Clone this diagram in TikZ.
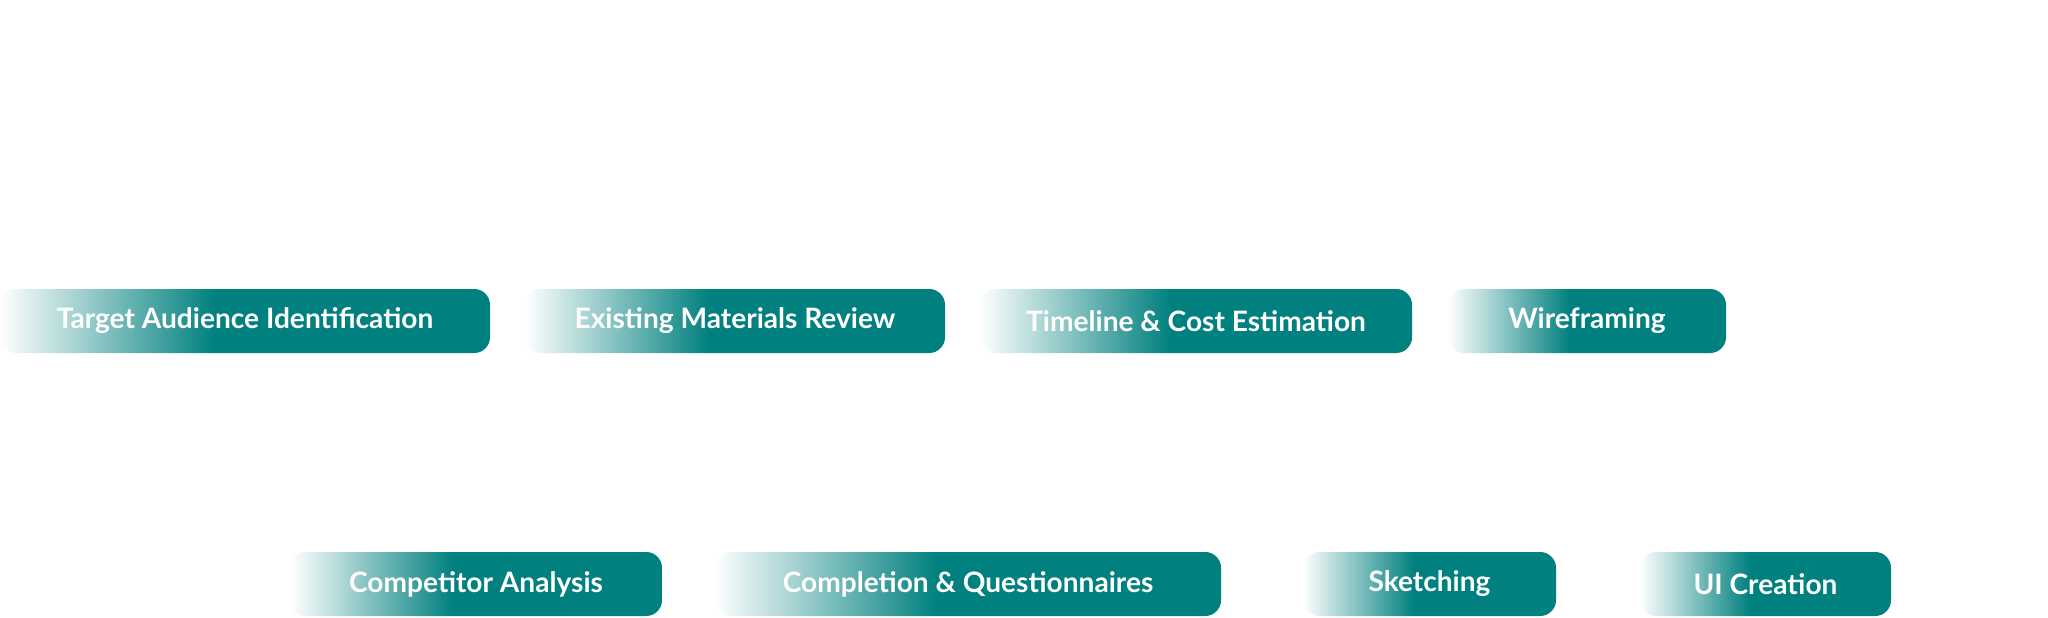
\documentclass[tikz,border=0pt]{standalone}
\usepackage{fontspec}
\setmainfont{Lato}
\definecolor{tealc}{HTML}{00807E}
\pgfdeclarehorizontalshading{fadeteal}{100bp}{color(0bp)=(white); color(25bp)=(white); color(47bp)=(tealc); color(100bp)=(tealc)}
\tikzset{
  pill/.style={rounded corners=9pt, shading=fadeteal},
  lbl/.style={text=white, font=\fontsize{16}{18}\selectfont\bfseries, anchor=center}
}
\begin{document}
\begin{tikzpicture}[x=0.02cm,y=-0.02cm]
\useasboundingbox (0,0) rectangle (2048,618);
\newcommand\pillbox[6]{%
  \path[pill] (#1,#2) rectangle (#3,#4);
  \node[lbl] (#5) at ({(#1+#3)/2},{(#2+#4)/2}) {#6};}
\pillbox{0}{289}{490}{353}{a}{Target Audience Identification}
\pillbox{525}{289}{945}{353}{b}{Existing Materials Review}
\pillbox{980}{289}{1412}{353}{c}{Timeline \& Cost Estimation}
\pillbox{1448}{289}{1726}{353}{d}{Wireframing}
\pillbox{290}{552}{662}{616}{e}{Competitor Analysis}
\pillbox{715}{552}{1221}{616}{f}{Completion \& Questionnaires}
\pillbox{1303}{552}{1556}{616}{g}{Sketching}
\pillbox{1640}{552}{1891}{616}{h}{UI Creation}
\end{tikzpicture}
\end{document}
